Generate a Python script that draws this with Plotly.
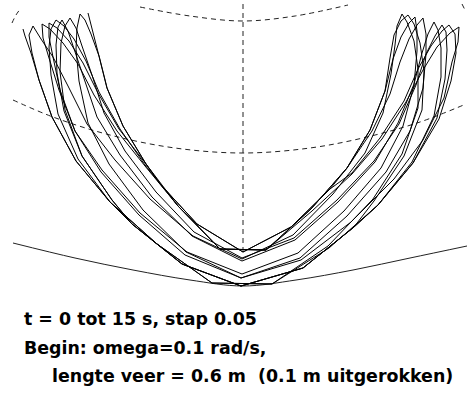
import plotly.graph_objects as go

# Projected path of the spring-pendulum bob (screen units, x right, y down),
# one sample every 0.05 s. One row per half swing, ending at its turning point.
path_x = [
    23,
    25, 31, 39, 52, 76, 110, 157, 212, 272, 328, 373, 402, 418, 418, 414, 407, 402,
    397, 395, 391, 383, 365, 333, 293, 242, 193, 150, 115, 87, 68, 53, 41, 33,
    29, 32, 39, 52, 76, 110, 132, 182, 241, 303, 354, 374, 404, 422, 424, 420, 414, 408,
    401, 394, 390, 385, 370, 347, 311, 266, 220, 178, 145, 117, 94, 78, 63, 50, 42,
    43, 49, 59, 75, 102, 140, 187, 242, 298, 344, 381, 403, 414, 417, 417, 415,
    409, 401, 393, 385, 370, 347, 330, 291, 243, 197, 161, 146, 119, 98, 83, 69, 57, 49,
    49, 53, 60, 75, 101, 139, 185, 241, 300, 347, 386, 410, 423, 426, 426, 423,
    417, 409, 400, 390, 372, 347, 311, 266, 220, 178, 145, 120, 99, 86, 74, 64, 56,
    51, 49, 51, 58, 78, 110, 157, 212, 272, 329, 378, 412, 434, 441, 441, 438, 434,
    428, 422, 414, 398, 375, 338, 295, 242, 192, 152, 120, 97, 84, 74, 68, 62,
    58, 56, 57, 64, 82, 112, 132, 182, 241, 303, 354, 378, 413, 437, 445, 447, 446, 442,
    435, 426, 416, 399, 374, 337, 294, 242, 194, 156, 125, 104, 92, 82, 76, 70,
    65, 61, 60, 65, 82, 112, 132, 182, 241, 303, 354, 378, 413, 439, 451, 456, 455, 449,
    442, 431, 418, 404, 380, 352, 330, 291, 243, 197, 161, 146, 123, 107, 99, 91, 85, 80,
    77, 76, 79, 88, 109, 143, 186, 241, 301, 351, 394, 423, 444, 452, 458, 459,
    450, 437, 423, 406, 382, 352, 312, 266, 220, 178, 146, 123, 107, 99, 93, 90, 88,
]
path_y = [
    29,
    36, 53, 80, 117, 161, 202, 244, 283, 284, 246, 199, 154, 108, 69, 41, 22, 14,
    26, 45, 74, 113, 153, 194, 235, 259, 236, 199, 160, 124, 86, 57, 39, 26,
    35, 53, 80, 117, 161, 202, 224, 264, 286, 268, 227, 201, 156, 110, 71, 43, 24, 15,
    21, 35, 58, 91, 130, 168, 209, 250, 249, 206, 166, 131, 95, 64, 43, 29, 24,
    38, 58, 90, 131, 170, 213, 252, 274, 253, 211, 168, 126, 85, 51, 31, 17,
    23, 37, 59, 91, 130, 168, 189, 227, 252, 224, 185, 164, 129, 93, 63, 41, 28, 23,
    37, 57, 90, 131, 172, 215, 255, 278, 258, 216, 172, 131, 88, 54, 34, 18,
    25, 39, 62, 94, 131, 168, 209, 250, 249, 206, 165, 129, 92, 61, 39, 26, 20,
    29, 47, 75, 114, 159, 202, 244, 283, 284, 248, 205, 162, 116, 77, 48, 30, 22,
    34, 53, 84, 123, 162, 202, 240, 261, 236, 197, 155, 117, 79, 49, 31, 20,
    27, 45, 73, 111, 156, 200, 224, 264, 286, 268, 227, 205, 163, 118, 79, 50, 32, 25,
    36, 54, 85, 124, 161, 200, 238, 258, 232, 192, 151, 113, 75, 46, 28, 18,
    26, 43, 72, 110, 156, 200, 224, 264, 286, 268, 227, 205, 163, 119, 81, 53, 34, 25,
    31, 46, 69, 101, 138, 173, 189, 227, 252, 224, 185, 164, 126, 88, 56, 34, 20, 14,
    28, 49, 81, 123, 164, 210, 252, 278, 260, 222, 179, 140, 98, 62, 42, 27,
    33, 47, 70, 102, 139, 174, 211, 250, 249, 206, 164, 126, 88, 56, 33, 19, 13,
]

# Reference circles of the sphere (dashed), the vertical axis and the bowl rim (solid)
ring_top_x = [140, 190, 243, 295, 348]
ring_top_y = [7, 16, 21, 16, 5]
ring_top_left_x = [12, 16, 21]
ring_top_left_y = [23, 15, 8]
ring_top_right_x = [462, 466]
ring_top_right_y = [4, 12]
ring_mid_x = [13, 53, 110, 175, 243, 310, 367, 420, 466]
ring_mid_y = [100, 117, 135, 148, 153, 148, 137, 122, 104]
bowl_x = [13, 75, 133, 190, 243, 296, 353, 410, 467]
bowl_y = [243, 258, 270, 280, 286, 280, 270, 258, 246]
axis_x = [243, 243]
axis_y = [4, 252]

caption = [
    "t = 0 tot 15 s, stap 0.05",
    "Begin: omega=0.1 rad/s,",
    "lengte veer = 0.6 m  (0.1 m uitgerokken)",
]

fig = go.Figure()

dash = dict(color="#222222", width=1, dash="5px,4px")
for xs, ys in [
    (ring_top_x, ring_top_y),
    (ring_top_left_x, ring_top_left_y),
    (ring_top_right_x, ring_top_right_y),
    (ring_mid_x, ring_mid_y),
    (axis_x, axis_y),
]:
    fig.add_trace(go.Scatter(x=xs, y=ys, mode="lines", line=dict(shape="spline", **dash),
                             hoverinfo="skip"))

fig.add_trace(go.Scatter(x=bowl_x, y=bowl_y, mode="lines",
                         line=dict(color="#222222", width=1, shape="spline"),
                         hoverinfo="skip"))

fig.add_trace(go.Scatter(x=path_x, y=path_y, mode="lines",
                         line=dict(color="black", width=1),
                         hoverinfo="skip"))

caption_x = [22, 22, 50]
caption_y = [319, 348, 376]
for txt, cx, cy in zip(caption, caption_x, caption_y):
    fig.add_annotation(x=cx, y=cy, xref="x", yref="y", text=txt, showarrow=False,
                       xanchor="left", yanchor="middle",
                       font=dict(family="DejaVu Sans", size=17.4, color="black", weight="bold"))

fig.update_layout(
    width=467, height=394,
    margin=dict(l=0, r=0, t=0, b=0),
    paper_bgcolor="white", plot_bgcolor="white",
    showlegend=False,
    xaxis=dict(range=[0, 467], visible=False, fixedrange=True),
    yaxis=dict(range=[394, 0], visible=False, fixedrange=True),
)

fig.write_html("out.html")
